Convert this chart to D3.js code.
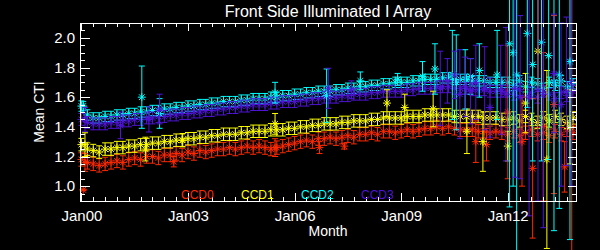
<!DOCTYPE html>
<html>
<head>
<meta charset="utf-8">
<script src="https://cdn.jsdelivr.net/npm/d3@7"></script>
<style>
  html, body { margin: 0; background: #000; }
  svg { display: block; }
  text { font-family: "Liberation Sans", Arial, sans-serif; fill: #fff; }
</style>
</head>
<body>
<svg id="chart" width="600" height="250"></svg>
<script>
// ---------------------------------------------------------------- data
var ccdNames = ['CCD0', 'CCD1', 'CCD2', 'CCD3'];

// dense monitoring band, one value every two months from Jan 2000 to Nov 2013
var bandStartYear = 2000, bandStepMonths = 2;
var ccd0Band = [1.18,1.16,1.15,1.14,1.15,1.16, 1.17,1.16,1.18,1.19,1.18,1.20, 1.20,1.19,1.21,1.21,1.22,1.21,
  1.23,1.22,1.24,1.23,1.24,1.25, 1.25,1.26,1.25,1.26,1.27,1.26, 1.27,1.26,1.25,1.26,1.27,1.28,
  1.29,1.30,1.31,1.30,1.32,1.32, 1.33,1.32,1.33,1.34,1.33,1.35, 1.35,1.36,1.35,1.37,1.37,1.36,
  1.37,1.38,1.37,1.38,1.39,1.39, 1.40,1.39,1.40,1.39,1.38,1.38, 1.38,1.37,1.37,1.36,1.37,1.36,
  1.35,1.37,1.34,1.36,1.38,1.35, 1.36,1.34,1.37,1.35,1.38,1.36];
var ccd1Band = [1.28,1.25,1.24,1.23,1.25,1.25, 1.26,1.26,1.27,1.27,1.28,1.28, 1.29,1.29,1.30,1.30,1.31,1.31,
  1.32,1.32,1.33,1.33,1.34,1.34, 1.35,1.35,1.35,1.36,1.36,1.37, 1.37,1.37,1.38,1.38,1.38,1.39,
  1.39,1.40,1.40,1.41,1.41,1.42, 1.42,1.42,1.43,1.43,1.44,1.44, 1.44,1.45,1.45,1.46,1.46,1.46,
  1.46,1.47,1.47,1.47,1.48,1.48, 1.48,1.48,1.48,1.47,1.47,1.47, 1.47,1.47,1.46,1.46,1.46,1.45,
  1.45,1.46,1.44,1.47,1.45,1.43, 1.46,1.44,1.47,1.45,1.43,1.46];
var ccd2Band = [1.54,1.48,1.46,1.46,1.47,1.47, 1.48,1.48,1.49,1.49,1.50,1.50, 1.51,1.51,1.52,1.52,1.53,1.53,
  1.54,1.54,1.55,1.55,1.56,1.56, 1.57,1.57,1.57,1.58,1.58,1.59, 1.59,1.59,1.60,1.60,1.61,1.61,
  1.62,1.62,1.63,1.63,1.64,1.64, 1.64,1.65,1.65,1.66,1.66,1.67, 1.67,1.68,1.68,1.69,1.69,1.70,
  1.70,1.70,1.71,1.71,1.72,1.72, 1.72,1.73,1.73,1.72,1.72,1.72, 1.71,1.71,1.71,1.70,1.70,1.70,
  1.70,1.68,1.71,1.67,1.70,1.69, 1.66,1.70,1.68,1.71,1.67,1.69];
var ccd3Band = [1.45,1.43,1.42,1.42,1.42,1.43, 1.43,1.44,1.44,1.45,1.45,1.46, 1.46,1.47,1.47,1.48,1.48,1.49,
  1.49,1.50,1.50,1.51,1.51,1.52, 1.52,1.53,1.53,1.54,1.54,1.55, 1.55,1.55,1.56,1.56,1.57,1.57,
  1.57,1.58,1.58,1.59,1.59,1.60, 1.60,1.60,1.61,1.61,1.62,1.62, 1.62,1.63,1.63,1.64,1.64,1.64,
  1.64,1.65,1.65,1.66,1.66,1.66, 1.67,1.67,1.67,1.66,1.66,1.66, 1.65,1.65,1.65,1.64,1.64,1.64,
  1.64,1.62,1.65,1.61,1.63,1.60, 1.64,1.62,1.59,1.63,1.61,1.64];
var bandErr = [0.045, 0.042, 0.035, 0.04];

// single months with large scatter: [decimal year, mean CTI, error]
var ccd0Points = [[2000.05,0.975,0.005],[2000.1,1.16,0.06],[2002.6,1.165,0.035],[2005.45,1.26,0.06],
  [2006.7,1.26,0.04],[2007.4,1.27,0.02],[2011.1,1.30,0.14],[2011.4,1.28,0.11],[2012.0,1.50,0.45],
  [2012.4,1.30,0.30],[2012.7,1.12,0.47],[2013.0,1.40,0.50],[2013.3,1.55,0.60],[2013.6,1.13,0.17],[2013.8,1.40,0.90]];
var ccd1Points = [[2000.1,1.28,0.08],[2001.8,1.25,0.08],[2002.85,1.31,0.045],[2005.45,1.42,0.07],
  [2008.6,1.56,0.09],[2009.1,1.53,0.09],[2009.9,1.52,0.12],[2010.85,1.37,0.15],[2011.3,1.30,0.20],
  [2012.0,1.27,0.10],[2012.5,1.56,0.20],[2012.85,1.91,0.50],[2013.1,1.18,0.60],[2013.75,1.40,0.25]];
var ccd2Points = [[2000.05,1.54,0.03],[2001.7,1.60,0.21],[2002.2,1.49,0.10],[2005.45,1.63,0.07],
  [2006.9,1.61,0.18],[2007.85,1.71,0.06],[2008.9,1.72,0.04],[2009.6,1.74,0.10],[2009.95,1.79,0.17],
  [2010.44,1.75,0.30],[2010.55,1.70,0.32],[2010.8,1.72,0.20],[2010.95,1.74,0.12],[2011.2,1.78,0.18],
  [2011.7,1.75,0.30],[2012.05,1.96,1.10],[2012.15,1.90,0.90],[2012.25,1.75,1.30],[2012.55,2.03,0.50],
  [2012.7,1.82,0.65],[2012.95,1.97,0.80],[2013.15,1.88,0.70],[2013.3,1.70,1.00],[2013.45,1.75,0.90],
  [2013.75,1.84,1.20]];
var ccd3Points = [[2000.1,1.45,0.08],[2001.1,1.41,0.09],[2001.9,1.45,0.085],[2002.2,1.52,0.10],
  [2006.95,1.66,0.135],[2007.6,1.65,0.06],[2010.1,1.66,0.25],[2010.3,1.71,0.15],[2010.5,1.75,0.16],
  [2010.65,1.62,0.30],[2010.8,1.67,0.20],[2010.95,1.64,0.22],[2011.1,1.70,0.25],[2011.35,1.66,0.28],
  [2011.5,1.53,0.20],[2011.8,1.65,0.30],[2011.95,1.62,0.45],[2012.2,1.66,0.60],[2012.35,1.60,0.55],
  [2012.6,1.60,0.80],[2012.85,1.65,0.75],[2013.0,1.62,0.90],[2013.3,1.76,0.40],[2013.5,1.55,0.55],
  [2013.65,1.64,0.50],[2013.8,1.70,0.70]];

var yearLabels = ['Jan00', 'Jan03', 'Jan06', 'Jan09', 'Jan12'];
var yearTicks = [2000, 2003, 2006, 2009, 2012];
var ctiTicks = [1.0, 1.2, 1.4, 1.6, 1.8, 2.0];

// ---------------------------------------------------------------- setup
var colors = ['#ff2a00', '#ffff00', '#00ffff', '#5014d8'];
var bands = [ccd0Band, ccd1Band, ccd2Band, ccd3Band];
var points = [ccd0Points, ccd1Points, ccd2Points, ccd3Points];

var plot = { left: 80, right: 576, top: 23, bottom: 201 };
var svg = d3.select('#chart');
svg.append('rect').attr('width', 600).attr('height', 250).attr('fill', '#000');

var x = d3.scaleLinear().domain([1999.96, 2013.92]).range([plot.left, plot.right]);
var y = d3.scaleLinear().domain([0.9, 2.1]).range([plot.bottom, plot.top]);

function asterisk(cx, cy, r){
  var d = r*0.72;
  return 'M'+(cx-r)+','+cy+'h'+(2*r)+'M'+cx+','+(cy-r)+'v'+(2*r)+
    'M'+(cx-d)+','+(cy-d)+'l'+(2*d)+','+(2*d)+'M'+(cx-d)+','+(cy+d)+'l'+(2*d)+','+(-2*d);
}
function errBar(cx, v, e, w){
  var y1 = y(v-e), y2 = y(v+e);
  return 'M'+cx+','+y1+'V'+y2+'M'+(cx-w)+','+y1+'h'+(2*w)+'M'+(cx-w)+','+y2+'h'+(2*w);
}

// ---------------------------------------------------------------- marks
var marks = svg.append('g').attr('fill', 'none').attr('stroke-width', 1);
bands.forEach(function(vals, s){
  var g = marks.append('g').attr('stroke', colors[s]);
  var rows = vals.map(function(v, i){ return { t: bandStartYear + i*bandStepMonths/12, v: v }; });
  g.selectAll('path.eb').data(rows).enter().append('path').attr('class', 'eb')
    .attr('d', function(d){ return errBar(x(d.t), d.v, bandErr[s], 3); });
  g.selectAll('path.st').data(rows).enter().append('path').attr('class', 'st')
    .attr('d', function(d){ return asterisk(x(d.t), y(d.v), 4); });
});
points.forEach(function(list, s){
  var g = marks.append('g').attr('stroke', colors[s]);
  g.selectAll('path.eb').data(list).enter().append('path').attr('class', 'eb')
    .attr('d', function(d){ return errBar(x(d[0]), d[1], d[2], 3); });
  g.selectAll('path.st').data(list).enter().append('path').attr('class', 'st')
    .attr('d', function(d){ return asterisk(x(d[0]), y(d[1]), 4); });
});

// ---------------------------------------------------------------- axes
var minorMonths = d3.range(1999 + 2/3, 2014, 1/3).filter(function(t){ return t >= 1999.96 && t <= 2013.92; });
var minorCti = d3.range(0.9, 2.1001, 0.05);

function axisGroup(axis, tx, ty){
  var g = svg.append('g').attr('transform', 'translate('+tx+','+ty+')').call(axis);
  g.select('.domain').remove();
  g.selectAll('line').attr('stroke', '#fff').attr('shape-rendering', 'crispEdges');
  return g;
}
// minor ticks
axisGroup(d3.axisBottom(x).tickValues(minorMonths).tickSize(-4).tickFormat(''), 0, plot.bottom);
axisGroup(d3.axisTop(x).tickValues(minorMonths).tickSize(-4).tickFormat(''), 0, plot.top);
axisGroup(d3.axisLeft(y).tickValues(minorCti).tickSize(-5).tickFormat(''), plot.left, 0);
axisGroup(d3.axisRight(y).tickValues(minorCti).tickSize(-4).tickFormat(''), plot.right, 0);
// major ticks with labels
var xb = axisGroup(d3.axisBottom(x).tickValues(yearTicks).tickSize(-8).tickPadding(9)
  .tickFormat(function(d, i){ return yearLabels[i]; }), 0, plot.bottom);
axisGroup(d3.axisTop(x).tickValues(yearTicks).tickSize(-8).tickFormat(''), 0, plot.top);
var yl = axisGroup(d3.axisLeft(y).tickValues(ctiTicks).tickSize(-10).tickPadding(5)
  .tickFormat(d3.format('.1f')), plot.left, 0);
axisGroup(d3.axisRight(y).tickValues(ctiTicks).tickSize(-8).tickFormat(''), plot.right, 0);
xb.selectAll('text').attr('font-size', 15).attr('fill', '#fff').attr('font-family', null);
yl.selectAll('text').attr('font-size', 15).attr('fill', '#fff').attr('font-family', null);

svg.append('rect')
  .attr('x', plot.left).attr('y', plot.top)
  .attr('width', plot.right - plot.left).attr('height', plot.bottom - plot.top)
  .attr('fill', 'none').attr('stroke', '#fff').attr('shape-rendering', 'crispEdges');

// ---------------------------------------------------------------- text
svg.append('text').attr('x', (plot.left+plot.right)/2).attr('y', 17)
  .attr('text-anchor', 'middle').attr('font-size', 16).text('Front Side Illuminated I Array');
svg.append('text').attr('x', (plot.left+plot.right)/2).attr('y', 236)
  .attr('text-anchor', 'middle').attr('font-size', 14).text('Month');
svg.append('text').attr('transform', 'translate(44,'+((plot.top+plot.bottom)/2)+') rotate(-90)')
  .attr('text-anchor', 'middle').attr('font-size', 14).text('Mean CTI');

svg.append('g').selectAll('text').data(ccdNames).enter().append('text')
  .attr('x', function(d, i){ return 181 + i*60; }).attr('y', 199)
  .attr('font-size', 12).style('fill', function(d, i){ return colors[i]; })
  .text(function(d){ return d; });
</script>
</body>
</html>
